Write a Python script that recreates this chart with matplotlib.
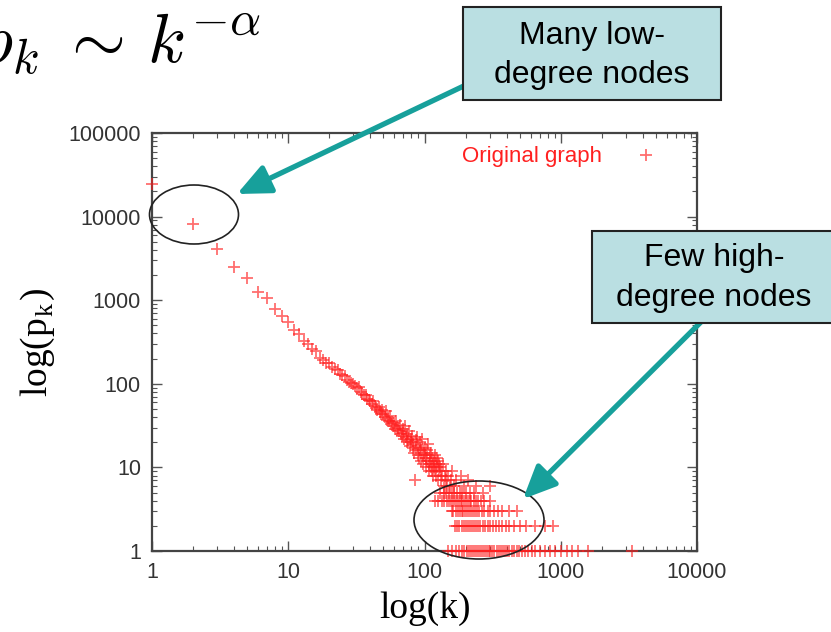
import matplotlib
matplotlib.use("Agg")
import matplotlib.pyplot as plt
from matplotlib.patches import Ellipse, Rectangle, FancyArrowPatch
from matplotlib.ticker import LogLocator, FixedLocator, NullFormatter

plt.rcParams['mathtext.fontset'] = 'cm'

# ---- data: degree k and count p_k ----
head_k = [1, 2, 3, 4, 5, 6, 7, 8, 9, 10, 11, 12, 13, 14, 15, 16, 17, 18, 19]
head_p = [24500, 8090, 4100, 2500, 1860, 1265, 1070, 778, 653, 544, 440, 394,
          328, 299, 261, 250, 205, 193, 179]

band_k = [20, 21, 22, 23, 24, 25, 26, 27, 28, 29, 30, 31, 32, 33, 34, 35, 36, 37,
          38, 39, 40, 41, 42, 43, 44, 45, 46, 47, 48, 49, 50, 51, 52, 53, 54, 55,
          56, 57, 58, 59, 60, 61, 62, 63, 64, 65, 66, 67, 68, 69, 70, 71, 72, 73,
          74, 75, 76, 77, 78, 79, 80, 81, 82, 83, 84, 85, 86, 87, 88, 89, 90, 91,
          92, 93, 94, 95, 96, 97, 98, 99, 100, 101, 102, 103, 104, 105, 106, 107,
          108, 109, 110, 111, 112, 113, 114, 115, 116, 117, 118, 119, 120, 121,
          122, 123, 124, 125, 126, 127, 128, 130, 132, 133, 135, 137, 139, 141,
          143, 145, 147, 150, 153, 156, 160, 165, 170, 185, 195, 208, 240, 302]
band_p = [178, 160, 150, 146, 132, 128, 124, 112, 106, 103,
          100, 94, 88, 91, 80, 76, 73, 74, 66, 64,
          62, 57, 63, 55, 52, 48, 53, 46, 44, 49,
          43, 40, 47, 37, 39, 36, 41, 33, 35, 31,
          34, 29, 36, 28, 30, 27, 32, 25, 24, 29,
          26, 22, 31, 23, 20, 25, 21, 27, 18, 22,
          20, 24, 17, 19, 15, 7, 21, 16, 23, 14,
          18, 13, 20, 17, 12, 16, 22, 14, 11, 15,
          14, 17, 10, 13, 16, 12, 19, 11, 9, 14,
          12, 10, 15, 9, 13, 11, 8, 12, 10, 14,
          9, 11, 8, 13, 10, 7, 12, 9, 11,
          10, 7, 9, 8, 11, 6, 8, 9, 7, 6, 8, 6, 7, 9, 6, 7, 8, 6, 7, 6, 6]

row5_k = [131, 138, 144, 151, 159, 166, 174, 181, 190, 200, 214, 230, 268]
row4_k = [119, 126, 134, 140, 146, 152, 157, 163, 168, 173, 178, 184, 189, 195,
          201, 207, 214, 221, 229, 237, 246, 258, 272, 300]
row3_k = [158, 163, 169, 175, 181, 187, 193, 199, 206, 213, 220, 228, 236, 244,
          253, 263, 275, 290, 305, 322, 345, 372, 415, 477]
row2_k = [167, 173, 180, 187, 194, 201, 208, 215, 223, 231, 239, 248, 257, 267,
          278, 290, 303, 318, 335, 352, 372, 395, 420, 455, 500, 560, 650, 760, 877]
row1_k = [149, 160, 171, 180, 188, 196, 204, 212, 220, 228, 236, 244, 252, 260,
          268, 277, 286, 295, 305, 315, 326, 338, 350, 362, 375, 390, 405, 420,
          437, 455, 475, 497, 520, 545, 575, 610, 650, 700, 760, 830, 910, 1000,
          1110, 1205, 1336, 1590, 3320]

rows = {5: row5_k, 4: row4_k, 3: row3_k, 2: row2_k, 1: row1_k}

k_all = list(head_k) + list(band_k)
p_all = list(head_p) + list(band_p)
for pv, ks in rows.items():
    k_all += ks
    p_all += [pv] * len(ks)

x_ticks = [1, 10, 100, 1000, 10000]
y_ticks = [1, 10, 100, 1000, 10000, 100000]
x_ticklabels = ['1', '10', '100', '1000', '10000']
y_ticklabels = ['1', '10', '100', '1000', '10000', '100000']

# ---- figure ----
W, H = 831, 632
fig = plt.figure(figsize=(W / 100, H / 100), dpi=100)

def fx(px):
    return px / W

def fy(py):
    return 1 - py / H

ax = fig.add_axes([fx(152), fy(551), (697 - 152) / W, (551 - 133) / H])
ax.set_xscale('log')
ax.set_yscale('log')
ax.set_xlim(1, 10000)
ax.set_ylim(1, 100000)

ax.plot(k_all, p_all, linestyle='none', marker='+', color='#ff2020', alpha=0.65,
        markersize=8, markeredgewidth=1.3, clip_on=False, label='Original graph',
        zorder=4)

ax.xaxis.set_major_locator(FixedLocator(x_ticks))
ax.yaxis.set_major_locator(FixedLocator(y_ticks))
ax.set_xticklabels(x_ticklabels)
ax.set_yticklabels(y_ticklabels)
ax.xaxis.set_minor_locator(LogLocator(base=10, subs=range(2, 10)))
ax.yaxis.set_minor_locator(LogLocator(base=10, subs=range(2, 10)))
ax.xaxis.set_minor_formatter(NullFormatter())
ax.yaxis.set_minor_formatter(NullFormatter())

for sp in ax.spines.values():
    sp.set_color('#444444')
    sp.set_linewidth(1.6)
    sp.set_zorder(2)

ax.tick_params(which='both', direction='in', top=True, right=True,
               color='#555555', labelcolor='#333333')
ax.tick_params(which='major', length=7, width=1.0, labelsize=15.5, pad=8)
ax.tick_params(which='minor', length=3.5, width=0.8)
for lab in ax.get_xticklabels() + ax.get_yticklabels():
    lab.set_family('Liberation Sans')

ax.set_xlabel('log(k)', family='Liberation Serif', fontsize=27, labelpad=6)
ax.set_ylabel(r'log(p$_{\mathregular{k}}$)', family='Liberation Serif', fontsize=27,
              labelpad=8)

leg = ax.legend(loc='upper right', markerfirst=False, frameon=False,
                prop={'family': 'Liberation Sans', 'size': 16},
                labelcolor='#ff2020', handlelength=2.0, handletextpad=1.0,
                borderaxespad=0.2, bbox_to_anchor=(0.972, 1.0))

# title formula
fig.text(fx(-25), fy(62), r'$p_k\;\sim\,k^{-\alpha}$', fontsize=50,
         ha='left', va='baseline', color='black')

# ellipses
e1 = Ellipse((fx(194), fy(214.5)), 89 / W, 59 / H, transform=fig.transFigure,
             fill=False, edgecolor='#222222', linewidth=1.2, zorder=5)
e2 = Ellipse((fx(479), fy(520)), 130 / W, 78 / H, transform=fig.transFigure,
             fill=False, edgecolor='#222222', linewidth=1.2, zorder=5)
fig.add_artist(e1)
fig.add_artist(e2)

teal = '#17a09b'
style = '-|>,head_length=2.0,head_width=0.9'
a1 = FancyArrowPatch((fx(470), fy(83)), (fx(237), fy(194)), transform=fig.transFigure,
                     arrowstyle=style, mutation_scale=10, linewidth=3.8, color=teal,
                     zorder=6, shrinkA=0, shrinkB=0)
a2 = FancyArrowPatch((fx(705), fy(318)), (fx(523), fy(499)), transform=fig.transFigure,
                     arrowstyle=style, mutation_scale=10, linewidth=3.8, color=teal,
                     zorder=6, shrinkA=0, shrinkB=0)
fig.add_artist(a1)
fig.add_artist(a2)

# boxes
box_fc = '#badfe2'
b1 = Rectangle((fx(463), fy(100)), (721 - 463) / W, (100 - 7) / H,
               transform=fig.transFigure, facecolor=box_fc, edgecolor='#222222',
               linewidth=1.5, zorder=7)
b2 = Rectangle((fx(592), fy(323)), (840 - 592) / W, (323 - 231) / H,
               transform=fig.transFigure, facecolor=box_fc, edgecolor='#222222',
               linewidth=1.5, zorder=7)
fig.add_artist(b1)
fig.add_artist(b2)

fig.text(fx(592), fy(55.5), 'Many low-\ndegree nodes', ha='center', va='center',
         family='Liberation Sans', fontsize=23, linespacing=1.4, zorder=8)
fig.text(fx(714), fy(278), 'Few high-\ndegree nodes', ha='center', va='center',
         family='Liberation Sans', fontsize=23, linespacing=1.4, zorder=8)

fig.savefig('out.png', dpi=100)
